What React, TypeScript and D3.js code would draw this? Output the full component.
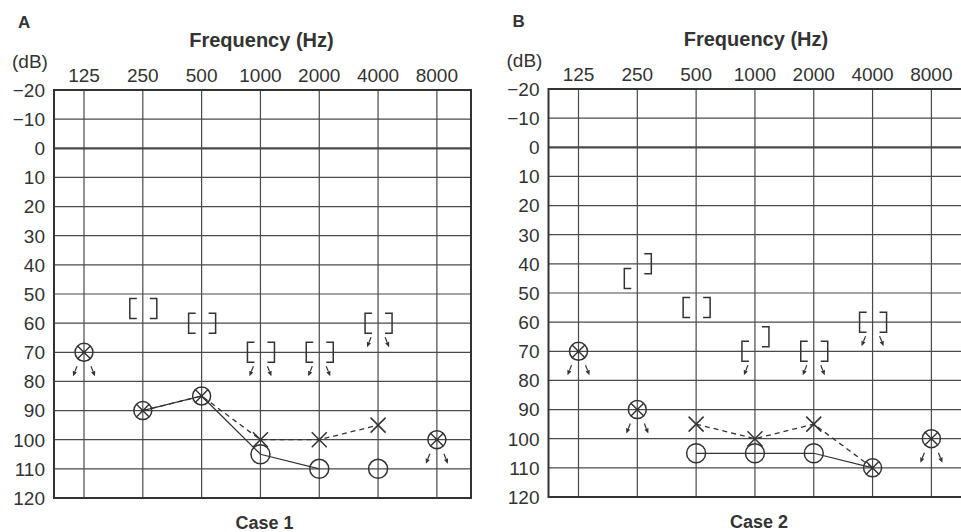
import * as d3 from 'd3';

// audiogram grid
const FREQS = [125, 250, 500, 1000, 2000, 4000, 8000];
const DB_TICKS = [-20, -10, 0, 10, 20, 30, 40, 50, 60, 70, 80, 90, 100, 110, 120];

// Case 1 (panel A)
const case1RightLine = [{ f: 250, db: 90 }, { f: 500, db: 85 }, { f: 1000, db: 105 }, { f: 2000, db: 110 }];
const case1LeftLine = [{ f: 250, db: 90 }, { f: 500, db: 85 }, { f: 1000, db: 100 }, { f: 2000, db: 100 }, { f: 4000, db: 95 }];
const case1Circles = [{ f: 1000, db: 105 }, { f: 2000, db: 110 }, { f: 4000, db: 110 }];
const case1Crosses = [{ f: 1000, db: 100 }, { f: 2000, db: 100 }, { f: 4000, db: 95 }];
const case1Both = [{ f: 125, db: 70, nr: true }, { f: 250, db: 90, nr: false }, { f: 500, db: 85, nr: false }, { f: 8000, db: 100, nr: true }];
const case1BoneR = [{ f: 250, db: 55, nr: false }, { f: 500, db: 60, nr: false }, { f: 1000, db: 70, nr: true }, { f: 2000, db: 70, nr: true }, { f: 4000, db: 60, nr: true }];
const case1BoneL = [{ f: 250, db: 55, nr: false }, { f: 500, db: 60, nr: false }, { f: 1000, db: 70, nr: true }, { f: 2000, db: 70, nr: true }, { f: 4000, db: 60, nr: true }];

// Case 2 (panel B)
const case2RightLine = [{ f: 500, db: 105 }, { f: 1000, db: 105 }, { f: 2000, db: 105 }, { f: 4000, db: 110 }];
const case2LeftLine = [{ f: 500, db: 95 }, { f: 1000, db: 100 }, { f: 2000, db: 95 }, { f: 4000, db: 110 }];
const case2Circles = [{ f: 500, db: 105 }, { f: 1000, db: 105 }, { f: 2000, db: 105 }];
const case2Crosses = [{ f: 500, db: 95 }, { f: 1000, db: 100 }, { f: 2000, db: 95 }];
const case2Both = [{ f: 125, db: 70, nr: true }, { f: 250, db: 90, nr: true }, { f: 4000, db: 110, nr: false }, { f: 8000, db: 100, nr: true }];
const case2BoneR = [{ f: 250, db: 45, nr: false }, { f: 500, db: 55, nr: false }, { f: 1000, db: 70, nr: true }, { f: 2000, db: 70, nr: true }, { f: 4000, db: 60, nr: true }];
const case2BoneL = [{ f: 250, db: 40, nr: false }, { f: 500, db: 55, nr: false }, { f: 1000, db: 65, nr: false }, { f: 2000, db: 70, nr: true }, { f: 4000, db: 60, nr: true }];

const INK = '#333';
const FONT = '"Liberation Sans", Arial, Helvetica, sans-serif';

function Arrow({ cx, cy, side }) {
  // small "no response" arrow pointing down and outward
  const x1 = cx + side * 7, y1 = cy + 14;
  const x2 = cx + side * 11, y2 = cy + 24;
  const ang = Math.atan2(y2 - y1, x2 - x1);
  const hl = 5, hw = 2.2;
  const bx = x2 - hl * Math.cos(ang), by = y2 - hl * Math.sin(ang);
  const px = -Math.sin(ang) * hw, py = Math.cos(ang) * hw;
  return (
    <g>
      <line x1={x1} y1={y1} x2={bx} y2={by} stroke={INK} strokeWidth={1.2} />
      <path d={`M${x2},${y2}L${bx + px},${by + py}L${bx - px},${by - py}Z`} fill={INK} />
    </g>
  );
}

function Panel({ x0, y0, y1, letter, caption, rightLine, leftLine, circles, crosses, both, boneR, boneL }) {
  const x = d3.scaleLog().base(2).domain([125 * 2 ** -0.51, 8000 * 2 ** 0.58]).range([x0, x0 + 417]);
  const y = d3.scaleLinear().domain([-20, 120]).range([y0, y1]);
  const [xl, xr] = x.range();
  const line = d3.line().x(d => x(d.f)).y(d => y(d.db));
  const cx = x(1000);

  return (
    <g fontFamily={FONT} fill={INK}>
      <text x={x0 - 36} y={y0 - 62} fontSize={17} fontWeight="bold">{letter}</text>
      <text x={cx + 1} y={y0 - 43} fontSize={20} fontWeight="bold" textAnchor="middle">Frequency (Hz)</text>
      <text x={x0 - 42} y={y0 - 22} fontSize={19}>(dB)</text>
      {FREQS.map(f => (
        <text key={f} x={x(f)} y={y0 - 8} fontSize={19} textAnchor="middle">{f}</text>
      ))}
      {DB_TICKS.map(v => (
        <text key={v} x={x0 - 9} y={y(v)} dy="0.36em" fontSize={19} textAnchor="end">{v < 0 ? `\u2212${-v}` : v}</text>
      ))}

      {/* grid */}
      {DB_TICKS.map(v => (
        <line key={'h' + v} x1={xl} x2={xr} y1={y(v)} y2={y(v)} stroke="#4a4a4a" strokeWidth={v === 0 ? 2.2 : 1.2} />
      ))}
      {FREQS.map(f => (
        <line key={'v' + f} x1={x(f)} x2={x(f)} y1={y0} y2={y1} stroke="#4a4a4a" strokeWidth={1.2} />
      ))}
      <rect x={xl} y={y0} width={xr - xl} height={y1 - y0} fill="none" stroke={INK} strokeWidth={2} />

      {/* air conduction lines */}
      <path d={line(rightLine)} fill="none" stroke={INK} strokeWidth={1.2} />
      <path d={line(leftLine)} fill="none" stroke={INK} strokeWidth={1.3} strokeDasharray="5,4" />

      {circles.map((d, i) => (
        <circle key={'o' + i} cx={x(d.f)} cy={y(d.db)} r={9.5} fill="none" stroke={INK} strokeWidth={1.5} />
      ))}
      {crosses.map((d, i) => (
        <path key={'x' + i} d={`M${x(d.f) - 7.5},${y(d.db) - 7.5}l15,15M${x(d.f) + 7.5},${y(d.db) - 7.5}l-15,15`} stroke={INK} strokeWidth={1.5} fill="none" />
      ))}
      {both.map((d, i) => {
        const px = x(d.f), py = y(d.db), k = 6.4;
        return (
          <g key={'b' + i}>
            <circle cx={px} cy={py} r={9} fill="none" stroke={INK} strokeWidth={1.5} />
            <path d={`M${px - k},${py - k}L${px + k},${py + k}M${px + k},${py - k}L${px - k},${py + k}`} stroke={INK} strokeWidth={1.4} />
            <circle cx={px} cy={py} r={1.6} fill={INK} />
            {d.nr && <Arrow cx={px} cy={py} side={-1} />}
            {d.nr && <Arrow cx={px} cy={py} side={1} />}
          </g>
        );
      })}

      {/* masked bone conduction brackets */}
      {boneR.map((d, i) => {
        const px = x(d.f), py = y(d.db);
        return (
          <g key={'br' + i}>
            <path d={`M${px - 6},${py - 10}H${px - 13}V${py + 10}H${px - 6}`} fill="none" stroke={INK} strokeWidth={1.5} />
            {d.nr && <Arrow cx={px} cy={py} side={-1} />}
          </g>
        );
      })}
      {boneL.map((d, i) => {
        const px = x(d.f), py = y(d.db);
        return (
          <g key={'bl' + i}>
            <path d={`M${px + 7},${py - 10}H${px + 14}V${py + 10}H${px + 7}`} fill="none" stroke={INK} strokeWidth={1.5} />
            {d.nr && <Arrow cx={px} cy={py} side={1} />}
          </g>
        );
      })}

      <text x={cx + 4} y={y1 + 31} fontSize={18} fontWeight="bold" textAnchor="middle">{caption}</text>
    </g>
  );
}

export default function App() {
  return (
    <svg width={961} height={532} style={{ position: 'absolute', left: 0, top: 0, background: '#fff' }}>
      <rect width={961} height={532} fill="#fff" />
      <Panel x0={54} y0={90} y1={498} letter="A" caption="Case 1"
        rightLine={case1RightLine} leftLine={case1LeftLine} circles={case1Circles} crosses={case1Crosses}
        both={case1Both} boneR={case1BoneR} boneL={case1BoneL} />
      <Panel x0={548.5} y0={89} y1={497} letter="B" caption="Case 2"
        rightLine={case2RightLine} leftLine={case2LeftLine} circles={case2Circles} crosses={case2Crosses}
        both={case2Both} boneR={case2BoneR} boneL={case2BoneL} />
    </svg>
  );
}
